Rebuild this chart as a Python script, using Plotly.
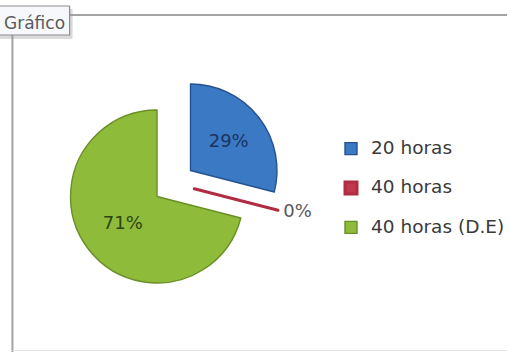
import plotly.graph_objects as go

# ---- data ----
categories = ["20 horas", "40 horas", "40 horas (D.E)"]
values = [29, 0, 71]
slice_colors = ["#3b79c4", "#c0394b", "#8fbb3b"]
edge_colors = ["#24528e", "#b02c42", "#6a8f24"]
label_colors = ["#1a3463", "#595959", "#2b4510"]
text_positions = ["inside", "outside", "inside"]
tab_title = "Gráfico"

W, H = 510, 352


def px(x):
    return x / W


def py(y):
    return 1 - y / H


legend_labels = ['<span style="font-size:18.5px">%s</span><br> ' % c for c in categories]

fig = go.Figure()
fig.add_trace(go.Pie(
    labels=legend_labels,
    values=values,
    sort=False,
    direction="clockwise",
    rotation=0,
    pull=0.245,
    marker=dict(colors=slice_colors, line=dict(color=edge_colors, width=[1.4, 3, 1.4])),
    texttemplate="%{percent:.0%}",
    textposition=text_positions,
    insidetextorientation="horizontal",
    textfont=dict(family="DejaVu Sans", size=18, color=label_colors),
    domain=dict(x=[px(66.5), px(283.1)], y=[py(291.8), py(75.2)]),
    hoverinfo="none",
))

shapes = [
    # chart frame lines
    dict(type="line", xref="paper", yref="paper", x0=px(70), x1=1.0, y0=py(15), y1=py(15),
         line=dict(color="#a3a3a3", width=2)),
    dict(type="line", xref="paper", yref="paper", x0=px(12.5), x1=px(12.5), y0=0, y1=py(35),
         line=dict(color="#a3a3a3", width=2)),
    dict(type="line", xref="paper", yref="paper", x0=px(12.5), x1=1.0, y0=py(350.5), y1=py(350.5),
         line=dict(color="#e4e4e4", width=1)),
    # tab shadow
    dict(type="rect", xref="paper", yref="paper", x0=px(-5), x1=px(73), y0=py(39), y1=py(9),
         fillcolor="rgba(150,150,150,0.35)", line=dict(width=0), layer="above"),
    # tab
    dict(type="rect", xref="paper", yref="paper", x0=px(-5), x1=px(70), y0=py(35), y1=py(6),
         fillcolor="#f6f8fb", line=dict(color="#8e8e8e", width=1.2), layer="above"),
]

fig.update_layout(
    width=W, height=H,
    margin=dict(l=0, r=0, t=0, b=0),
    paper_bgcolor="white", plot_bgcolor="white",
    showlegend=True,
    legend=dict(x=px(333), xanchor="left", y=py(133), yanchor="top",
                font=dict(family="DejaVu Sans", size=14, color="#3a3a3a"),
                valign="top", bgcolor="rgba(0,0,0,0)", tracegroupgap=0),
    shapes=shapes,
    annotations=[dict(text=tab_title, x=px(2), xanchor="left", y=py(22.5), yanchor="middle",
                      xref="paper", yref="paper", showarrow=False,
                      font=dict(family="DejaVu Sans", size=17, color="#5a5a5a"))],
)

fig.write_html("out.html")
